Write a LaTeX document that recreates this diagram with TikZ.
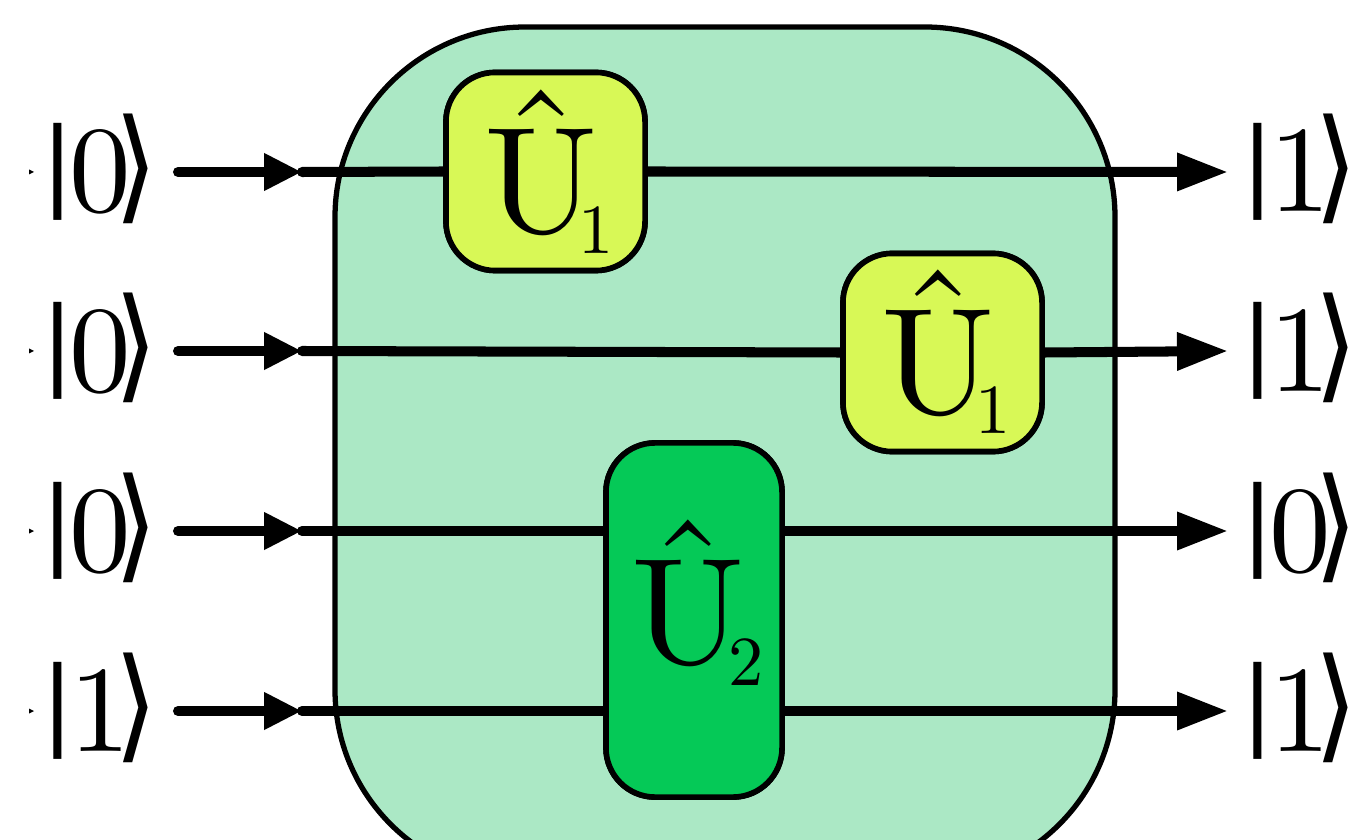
\documentclass[tikz,border=0pt]{standalone}
\usepackage{fontspec}
\newfontfamily\brk{DejaVu Sans}
\newfontfamily\lmten{lmroman10-regular}[Extension=.otf]
\usetikzlibrary{arrows.meta}
\definecolor{boxgreen}{HTML}{ABE8C5}
\definecolor{limegate}{HTML}{D8F856}
\definecolor{greengate}{HTML}{05C957}
\newcommand{\Uhat}{\rlap{\makebox[0.75em]{\raisebox{0.252em}{ˆ}}}U}
\newcommand{\Uop}[3]{{\lmten\fontsize{43}{50}\selectfont\Uhat}\kern#2\raisebox{#3}{\lmten\fontsize{20}{24}\selectfont #1}}
\newcommand{\ketx}[1]{{\brk\fontsize{27.6}{30}\selectfont\raisebox{4pt}{|}}\kern-1.5pt{\lmten #1}\kern-4.6pt{\brk\fontsize{27.6}{30}\selectfont\raisebox{1.3pt}{\scalebox{1.15}[1.27]{⟩}}}}
\begin{document}
\begin{tikzpicture}[x=0.01cm,y=-0.01cm,
  wire/.style={line width=2.85pt, line cap=round},
  arrin/.style={wire, -{Triangle[length=10.8pt,width=10pt]}},
  arrout/.style={wire, -{Triangle[length=14.5pt,width=10.2pt]}},
  ket/.style={font=\fontsize{35}{40}\selectfont, inner sep=0pt, anchor=base west},
  gatebase/.style={draw, line width=1.6pt, rounded corners=14pt, inner sep=0pt},
  gateone/.style={gatebase, fill=limegate, minimum width=1.99cm, minimum height=1.98cm},
  gatetwo/.style={gatebase, fill=greengate, minimum width=1.76cm, minimum height=3.54cm},
  lab/.style={inner sep=0pt, anchor=base west}
]
\useasboundingbox (0,0) rectangle (1358,840);
\clip (0,0) rectangle (1358,840);
% big box
\draw[line width=1.5pt, fill=boxgreen, rounded corners=1.9cm] (335,27) rectangle (1115,880);
% kets
\foreach \i/\y/\a/\b in {0/172/0/1, 1/351/0/1, 2/531/0/0, 3/711/1/1}{
  \node[ket] (in\i) at (41,\y+40) {\ketx{\a}};
  \node[ket] (out\i) at (1241,\y+40) {\ketx{\b}};
  \fill (29,\y-2.5) -- (34,\y) -- (29,\y+2.5) -- cycle;
  \coordinate (s\i) at (178,\y);
  \coordinate (a\i) at (302,\y);
  \coordinate (t\i) at (1228,\y);
}
% gates
\node[gateone] (g1) at (545.5,171.5) {};
\node[gateone] (g2) at (942.5,352.5) {};
\node[gatetwo] (g3) at (694,620) {};
% wires
\draw[arrin] (s0) -- (a0);
\draw[arrin] (s1) -- (a1);
\draw[arrin] (s2) -- (a2);
\draw[arrin] (s3) -- (a3);
\draw[wire] (a0) -- (g1.west);
\draw[wire] (a1) -- (g2.west);
\draw[wire] (a2) -- (g3.west |- a2);
\draw[wire] (a3) -- (g3.west |- a3);
\draw[arrout] (g1.east) -- (t0);
\draw[arrout] (g2.east) -- (t1);
\draw[arrout] (g3.east |- t2) -- (t2);
\draw[arrout] (g3.east |- t3) -- (t3);
% gates on top of the wires
\node[gateone] at (g1) {};
\node[gateone] at (g2) {};
\node[gatetwo] at (g3) {};
\node[lab] (u1) at (484,233) {\Uop{1}{-5.7pt}{-5.7pt}};
\node[lab] (u2) at (881,413) {\Uop{1}{-5.7pt}{-5.7pt}};
\node[lab] (u3) at (631,663) {\Uop{2}{-4.8pt}{-6.3pt}};
\end{tikzpicture}
\end{document}
